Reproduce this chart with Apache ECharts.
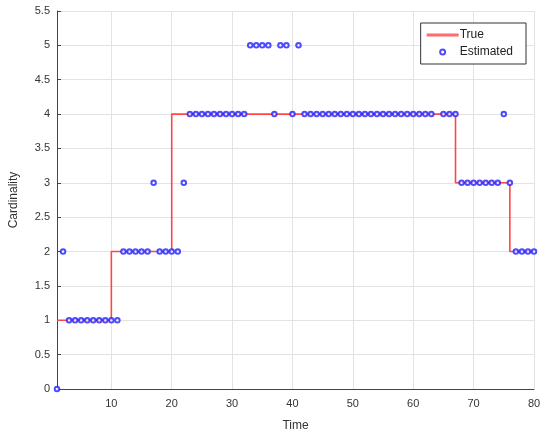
<!DOCTYPE html>
<html>
<head>
<meta charset="utf-8">
<script src="https://cdn.jsdelivr.net/npm/echarts@6/dist/echarts.min.js"></script>
<style>
  html,body{margin:0;padding:0;background:#fff;}
  #chart{width:550px;height:440px;}
</style>
</head>
<body>
<div id="chart"></div>
<script>
// true cardinality, stair corners (step at end)
const trueTime = [1, 10, 20, 67, 76, 80]
const trueValue = [1, 2, 4, 3, 2, 2]

// estimated cardinality, one per time step 1..80 (64 missing)
const estTime = []
for (let t = 1; t <= 80; t++) estTime.push(t)
const estValue = [
  0, 2, 1, 1, 1, 1, 1, 1, 1, 1,
  1, 2, 2, 2, 2, 2, 3, 2, 2, 2,
  2, 3, 4, 4, 4, 4, 4, 4, 4, 4,
  4, 4, 5, 5, 5, 5, 4, 5, 5, 4,
  5, 4, 4, 4, 4, 4, 4, 4, 4, 4,
  4, 4, 4, 4, 4, 4, 4, 4, 4, 4,
  4, 4, 4, null, 4, 4, 4, 3, 3, 3,
  3, 3, 3, 3, 4, 3, 2, 2, 2, 2
]

const xTicks = [10, 20, 30, 40, 50, 60, 70, 80]

const chart = echarts.init(document.getElementById('chart'))
const font = 'Liberation Sans, Arial, sans-serif'

const option = {
  animation: false,
  textStyle: {fontFamily: font},
  grid: {left: 54, right: 16, top: 11, bottom: 51},
  legend: {
    orient: 'vertical',
    right: 24,
    top: 23,
    padding: [6, 13, 6, 6],
    itemGap: 5,
    itemWidth: 32,
    itemHeight: 5,
    borderColor: '#333',
    borderWidth: 1,
    backgroundColor: '#fff',
    textStyle: {fontSize: 12, color: '#222', fontFamily: font, padding: [0, 0, 0, -4]},
    data: [
      {name: 'True', icon: 'path://M0,0H32V3H0Z', itemStyle: {color: '#ff6a6a'}},
      {name: 'Estimated', icon: 'emptyCircle'}
    ]
  },
  xAxis: {
    type: 'value',
    min: 1,
    max: 80,
    name: 'Time',
    nameLocation: 'middle',
    nameGap: 31,
    nameTextStyle: {fontSize: 12, color: '#333'},
    axisLine: {onZero: false, lineStyle: {color: '#444', width: 1}},
    axisTick: {inside: true, length: 4, customValues: xTicks, lineStyle: {color: '#444'}},
    axisLabel: {customValues: xTicks, fontSize: 11, color: '#333', margin: 9},
    splitLine: {show: false}
  },
  yAxis: {
    type: 'value',
    min: 0,
    max: 5.5,
    interval: 0.5,
    name: 'Cardinality',
    nameLocation: 'middle',
    nameGap: 37,
    nameTextStyle: {fontSize: 12, color: '#333'},
    axisLine: {show: true, lineStyle: {color: '#444', width: 1}},
    axisTick: {show: true, inside: true, length: 4, lineStyle: {color: '#444'}},
    axisLabel: {fontSize: 11, color: '#333', margin: 7},
    splitLine: {show: true, lineStyle: {color: '#e3e3e3', width: 1}}
  },
  series: [
    {
      name: 'True',
      type: 'line',
      step: 'end',
      showSymbol: false,
      symbol: 'none',
      data: trueTime.map((t, i) => [t, trueValue[i]]),
      lineStyle: {color: '#ff4545', width: 1.6},
      itemStyle: {color: '#ff5050'},
      z: 2,
      markLine: {
        silent: true,
        symbol: 'none',
        label: {show: false},
        lineStyle: {color: '#e3e3e3', type: 'solid', width: 1},
        data: xTicks.map(v => ({xAxis: v})),
        z: 1
      }
    },
    {
      name: 'Estimated',
      type: 'scatter',
      symbol: 'emptyCircle',
      symbolSize: 4.5,
      clip: false,
      data: estTime.map((t, i) => [t, estValue[i]]).filter(d => d[1] !== null),
      itemStyle: {color: '#2020ff', borderColor: '#2020ff', borderWidth: 1.1},
      z: 3
    }
  ]
}
chart.setOption(option)
</script>
</body>
</html>
